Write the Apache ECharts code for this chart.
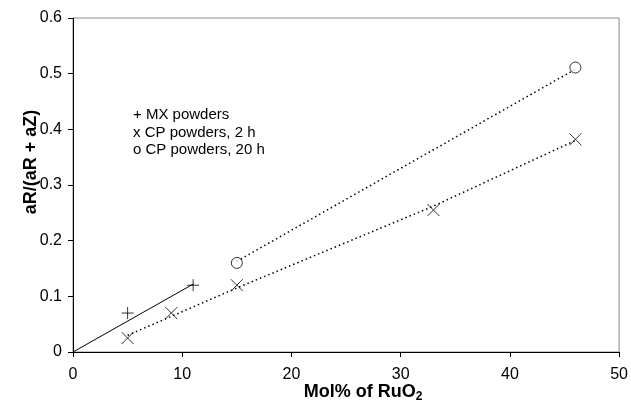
<!DOCTYPE html>
<html>
<head>
<meta charset="utf-8">
<script src="https://cdn.jsdelivr.net/npm/echarts@6/dist/echarts.min.js"></script>
<style>
  html, body { margin: 0; padding: 0; background: #fff; }
  #chart { width: 631px; height: 403px; }
</style>
</head>
<body>
<div id="chart"></div>
<script>
// points
const mxPoints = [[5, 0.07], [11, 0.12]];
const cp2hPoints = [[5, 0.025], [9, 0.07], [15, 0.12], [33, 0.255], [46, 0.382]];
const cp20hPoints = [[15, 0.16], [46, 0.511]];

// trend line ends
const mxTrend = [[0, 0], [11, 0.122]];
const cp2hTrend = [[5, 0.03], [15, 0.115], [33, 0.262], [46, 0.38]];
const cp20hTrend = [[15, 0.163], [46, 0.508]];

const legendLines = ['+ MX powders', 'x CP powders, 2 h', 'o CP powders, 20 h'];

const plusSym = 'path://M0,-1L0,1M-1,0L1,0';
const crossSym = 'path://M-1,-1L1,1M-1,1L1,-1';

const font = 'Liberation Sans, Arial, sans-serif';

function markerSeries(data, symbol, size, fill) {
    return {
        type: 'scatter',
        data: data,
        symbol: symbol,
        symbolSize: size,
        itemStyle: { color: fill, borderColor: '#000', borderWidth: 1 },
        z: 5
    };
}

function trendSeries(data, dashed) {
    return {
        type: 'line',
        data: data,
        symbol: 'none',
        lineStyle: { color: '#000', width: dashed ? 1.5 : 1, type: dashed ? [1.5, 3] : 'solid' },
        z: 3
    };
}

const titleStyle = { fontSize: 18, fontWeight: 'bold', fontFamily: font, fill: '#000' };

const graphics = legendLines.map(function (t, i) {
    return {
        type: 'text',
        x: 133,
        y: 115 + i * 17.5,
        style: { text: t, fontSize: 15, fontFamily: font, fill: '#000', verticalAlign: 'middle' }
    };
});
// axis titles placed where the reference has them (not centred on the plot)
graphics.push({
    type: 'text',
    x: 363, y: 392,
    style: {
        text: '{b|Mol% of RuO}{s|2}',
        align: 'center', verticalAlign: 'middle',
        rich: {
            b: titleStyle,
            s: { fontSize: 12, fontWeight: 'bold', fontFamily: font, fill: '#000', padding: [9, 0, 0, 0] }
        }
    }
});
graphics.push({
    type: 'text',
    x: 31, y: 162,
    rotation: Math.PI / 2,
    style: Object.assign({ text: 'aR/(aR + aZ)', align: 'center', verticalAlign: 'middle' }, titleStyle)
});

const chart = echarts.init(document.getElementById('chart'));
chart.setOption({
    animation: false,
    backgroundColor: '#fff',
    grid: {
        left: 73, right: 9, top: 18, bottom: 51,
        show: true, borderColor: '#8c8c8c', borderWidth: 1, backgroundColor: 'transparent'
    },
    xAxis: {
        type: 'value',
        min: 0, max: 50, interval: 10,
        axisLine: { lineStyle: { color: '#000', width: 1 } },
        axisTick: { inside: false, length: 5, lineStyle: { color: '#000' } },
        axisLabel: { color: '#000', fontSize: 16, fontFamily: font, margin: 15 },
        splitLine: { show: false }
    },
    yAxis: {
        type: 'value',
        min: 0, max: 0.6, interval: 0.1,
        axisLine: { show: true, lineStyle: { color: '#000', width: 1 } },
        axisTick: { show: true, inside: false, length: 5, lineStyle: { color: '#000' } },
        axisLabel: { color: '#000', fontSize: 16, fontFamily: font, margin: 11 },
        splitLine: { show: false }
    },
    graphic: graphics,
    series: [
        trendSeries(mxTrend, false),
        trendSeries(cp2hTrend, true),
        trendSeries(cp20hTrend, true),
        markerSeries(mxPoints, plusSym, 12, 'transparent'),
        markerSeries(cp2hPoints, crossSym, 12, 'transparent'),
        markerSeries(cp20hPoints, 'circle', 11, '#fff')
    ]
});
</script>
</body>
</html>
